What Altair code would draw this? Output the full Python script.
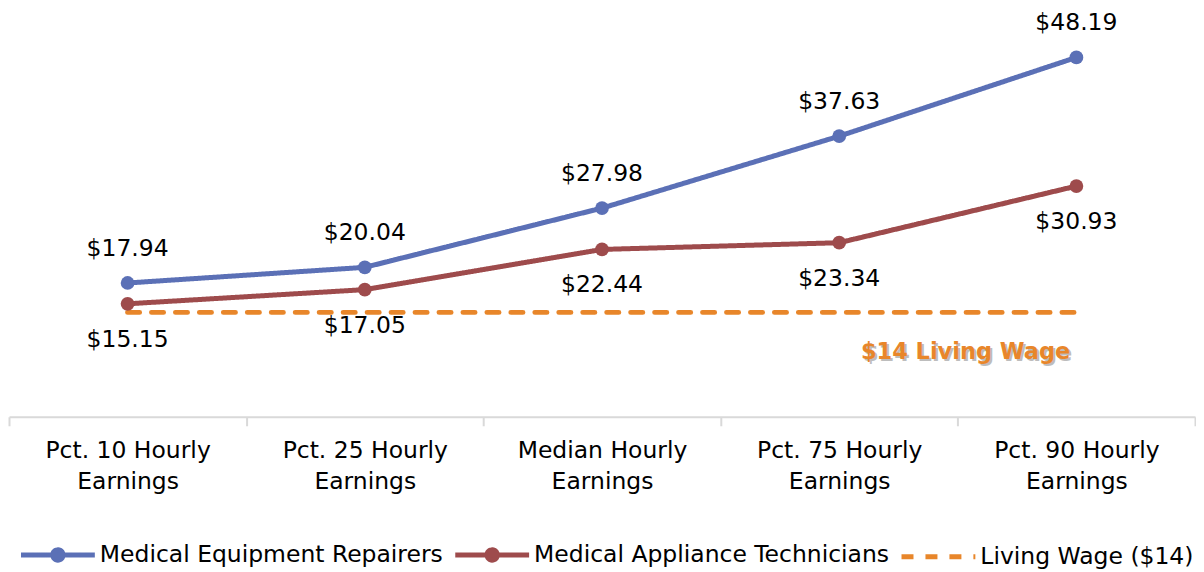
import altair as alt
import pandas as pd

categories = ["Pct. 10 Hourly Earnings", "Pct. 25 Hourly Earnings", "Median Hourly Earnings",
              "Pct. 75 Hourly Earnings", "Pct. 90 Hourly Earnings"]
repairers = [17.94, 20.04, 27.98, 37.63, 48.19]
technicians = [15.15, 17.05, 22.44, 23.34, 30.93]
living_wage = [14, 14, 14, 14, 14]

series_names = ["Medical Equipment Repairers", "Medical Appliance Technicians", "Living Wage ($14)"]
series_colors = ["#5B70B6", "#9E4B4C", "#E8862A"]

rows = []
for name, vals in zip(series_names, [repairers, technicians, living_wage]):
    for c, v in zip(categories, vals):
        rows.append({"cat": c, "value": v, "series": name})
df = pd.DataFrame(rows)

FONT = "DejaVu Sans"
FS = 23.5

x_enc = alt.X("cat:N", sort=categories, bandPosition=0.5,
              scale=alt.Scale(type="band", paddingInner=0, paddingOuter=0),
              axis=alt.Axis(title=None, labelAngle=0, labelFontSize=FS, labelFont=FONT,
                            labelColor="#000000", labelPadding=13, labelLineHeight=31,
                            labelExpr="datum.label ? [replace(datum.label, ' Earnings', ''), 'Earnings'] : ''",
                            domainColor="#d9d9d9", domainWidth=2, tickColor="#d9d9d9",
                            tickWidth=2, tickSize=9, tickBand="extent"))
y_enc = alt.Y("value:Q", scale=alt.Scale(domain=[0, 54.75], nice=False, zero=True), axis=None)

# legend symbol: a long line with a dot, drawn wider than its layout box
line_dot = "M-4,0H4M-0.56,0A0.56,0.56 0 1,0 0.56,0A0.56,0.56 0 1,0 -0.56,0Z"
line_only = "M-4,0H4"

legend = alt.Legend(title=None, orient="none", legendX=37, legendY=535, direction="horizontal",
                    labelFontSize=FS, labelFont=FONT, labelColor="#000000", symbolSize=342,
                    symbolStrokeWidth=5, labelOffset=30, columnPadding=2, labelLimit=500,
                    padding=0)

color = alt.Color("series:N", scale=alt.Scale(domain=series_names, range=series_colors), legend=legend)
dash = alt.StrokeDash("series:N", scale=alt.Scale(domain=series_names, range=[[1, 0], [1, 0], [12, 12]]), legend=legend)
shape = alt.Shape("series:N", scale=alt.Scale(domain=series_names, range=[line_dot, line_dot, line_only]), legend=legend)

base = alt.Chart(df).encode(x=x_enc, y=y_enc)

lines = base.mark_line(strokeWidth=5, strokeCap="round").encode(color=color, strokeDash=dash)

points = base.transform_filter(alt.datum.series != "Living Wage ($14)").mark_point(
    filled=True, size=190, opacity=1, shape="circle").encode(color=color)

lab_top = base.transform_filter(alt.datum.series == "Medical Equipment Repairers").mark_text(
    fontSize=FS, font=FONT, color="#000000", dy=-34, baseline="middle").encode(
    text=alt.Text("value:Q", format="$.2f"))
lab_bot = base.transform_filter(alt.datum.series == "Medical Appliance Technicians").mark_text(
    fontSize=FS, font=FONT, color="#000000", dy=36, baseline="middle").encode(
    text=alt.Text("value:Q", format="$.2f"))

lw = pd.DataFrame({"cat": [categories[-1]], "value": [living_wage[-1]], "txt": ["$14 Living Wage"]})
lw_base = alt.Chart(lw).encode(x=x_enc, y=y_enc, text="txt:N")
lw_shadow = lw_base.mark_text(fontSize=22.5, font=FONT, fontWeight="bold", color="#888888",
                              opacity=0.55, dx=-109, dy=42, baseline="middle")
lw_text = lw_base.mark_text(fontSize=22.5, font=FONT, fontWeight="bold", color="#E8862A",
                            dx=-111, dy=40, baseline="middle")

# invisible layer that carries the shape channel for the legend symbols
legend_carrier = base.mark_point(filled=True, opacity=0, size=0).encode(color=color, shape=shape, strokeDash=dash)

chart = alt.layer(lines, points, lab_top, lab_bot, lw_shadow, lw_text, legend_carrier).properties(
    width=1188, height=409, padding=0
).configure_view(stroke=None)

chart.save("out.html", embed_options={"renderer": "svg", "actions": False})
